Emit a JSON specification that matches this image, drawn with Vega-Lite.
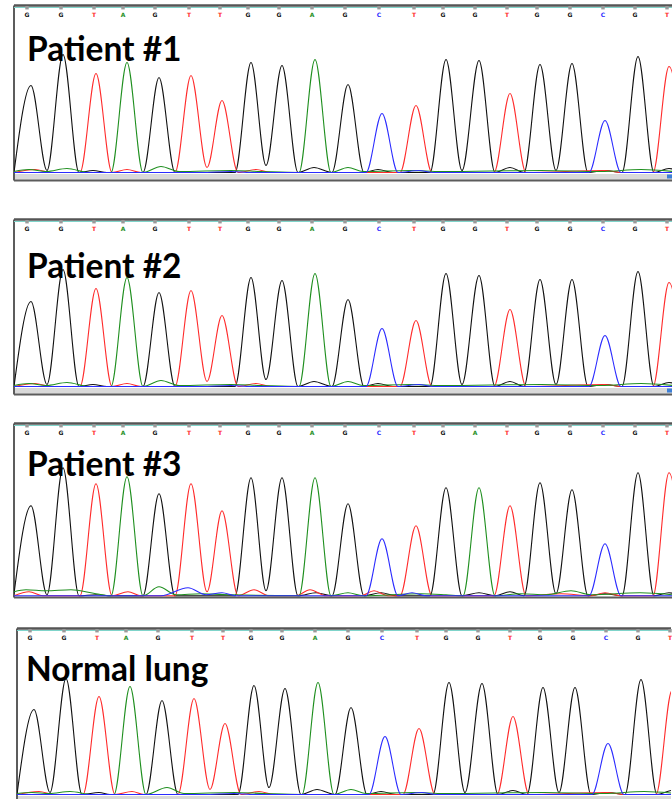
{
"$schema": "https://vega.github.io/schema/vega-lite/v6.json",
"padding": {"left": 12, "top": 3.5, "right": 0, "bottom": 0},
"background": "white",
"config": {"view": {"stroke": null}, "axis": {"disable": true}},
"datasets": {
"callsN": [
{"x":26,"b":"G"},{"x":60,"b":"G"},{"x":93,"b":"T"},{"x":122,"b":"A"},{"x":154,"b":"G"},{"x":188,"b":"T"},{"x":219,"b":"T"},{"x":247,"b":"G"},{"x":278,"b":"G"},{"x":311,"b":"A"},{"x":344,"b":"G"},{"x":378,"b":"C"},{"x":413,"b":"T"},{"x":442,"b":"G"},{"x":474,"b":"G"},{"x":506,"b":"T"},{"x":536,"b":"G"},{"x":569,"b":"G"},{"x":602,"b":"C"},{"x":634,"b":"G"},{"x":666,"b":"T"}],
"callsM": [
{"x":26,"b":"G"},{"x":60,"b":"G"},{"x":93,"b":"T"},{"x":122,"b":"A"},{"x":154,"b":"G"},{"x":188,"b":"T"},{"x":219,"b":"T"},{"x":247,"b":"G"},{"x":278,"b":"G"},{"x":311,"b":"A"},{"x":344,"b":"G"},{"x":378,"b":"C"},{"x":413,"b":"T"},{"x":442,"b":"G"},{"x":474,"b":"A"},{"x":506,"b":"T"},{"x":536,"b":"G"},{"x":569,"b":"G"},{"x":602,"b":"C"},{"x":634,"b":"G"},{"x":666,"b":"T"}],
"tr": [
{"p":1,"b":"G","x":13,"v":0},{"p":1,"b":"G","x":30,"v":87},{"p":1,"b":"G","x":46,"v":2},{"p":1,"b":"G","x":62,"v":118},{"p":1,"b":"G","x":78,"v":0},{"p":1,"b":"G","x":92,"v":2},{"p":1,"b":"G","x":106,"v":0},{"p":1,"b":"G","x":142,"v":0},{"p":1,"b":"G","x":158,"v":95},{"p":1,"b":"G","x":174,"v":0},{"p":1,"b":"G","x":234,"v":0},{"p":1,"b":"G","x":250,"v":110},{"p":1,"b":"G","x":265,"v":7},{"p":1,"b":"G","x":281,"v":107},{"p":1,"b":"G","x":297,"v":0},{"p":1,"b":"G","x":313,"v":5},{"p":1,"b":"G","x":331,"v":0},{"p":1,"b":"G","x":347,"v":88},{"p":1,"b":"G","x":363,"v":0},{"p":1,"b":"G","x":377,"v":3},{"p":1,"b":"G","x":392,"v":0},{"p":1,"b":"G","x":429,"v":0},{"p":1,"b":"G","x":445,"v":113},{"p":1,"b":"G","x":461,"v":2},{"p":1,"b":"G","x":478,"v":112},{"p":1,"b":"G","x":494,"v":0},{"p":1,"b":"G","x":509,"v":5},{"p":1,"b":"G","x":523,"v":0},{"p":1,"b":"G","x":539,"v":108},{"p":1,"b":"G","x":555,"v":2},{"p":1,"b":"G","x":571,"v":109},{"p":1,"b":"G","x":587,"v":0},{"p":1,"b":"G","x":604,"v":2},{"p":1,"b":"G","x":621,"v":0},{"p":1,"b":"G","x":637,"v":116},{"p":1,"b":"G","x":653,"v":0},{"p":1,"b":"G","x":668,"v":4},{"p":1,"b":"G","x":680,"v":0},
{"p":1,"b":"T","x":13,"v":0},{"p":1,"b":"T","x":34,"v":3},{"p":1,"b":"T","x":50,"v":0},{"p":1,"b":"T","x":79,"v":0},{"p":1,"b":"T","x":95,"v":99},{"p":1,"b":"T","x":111,"v":0},{"p":1,"b":"T","x":126,"v":3},{"p":1,"b":"T","x":140,"v":0},{"p":1,"b":"T","x":174,"v":0},{"p":1,"b":"T","x":190,"v":97},{"p":1,"b":"T","x":206,"v":5},{"p":1,"b":"T","x":221,"v":72},{"p":1,"b":"T","x":237,"v":0},{"p":1,"b":"T","x":255,"v":3},{"p":1,"b":"T","x":270,"v":0},{"p":1,"b":"T","x":399,"v":0},{"p":1,"b":"T","x":415,"v":67},{"p":1,"b":"T","x":431,"v":0},{"p":1,"b":"T","x":493,"v":0},{"p":1,"b":"T","x":509,"v":79},{"p":1,"b":"T","x":525,"v":0},{"p":1,"b":"T","x":604,"v":2},{"p":1,"b":"T","x":620,"v":0},{"p":1,"b":"T","x":652,"v":0},{"p":1,"b":"T","x":668,"v":106},{"p":1,"b":"T","x":684,"v":0},
{"p":1,"b":"A","x":13,"v":1},{"p":1,"b":"A","x":28,"v":3},{"p":1,"b":"A","x":45,"v":1},{"p":1,"b":"A","x":66,"v":4},{"p":1,"b":"A","x":88,"v":0},{"p":1,"b":"A","x":110,"v":0},{"p":1,"b":"A","x":126,"v":110},{"p":1,"b":"A","x":142,"v":0},{"p":1,"b":"A","x":160,"v":6},{"p":1,"b":"A","x":178,"v":1},{"p":1,"b":"A","x":230,"v":2},{"p":1,"b":"A","x":260,"v":1},{"p":1,"b":"A","x":298,"v":0},{"p":1,"b":"A","x":314,"v":113},{"p":1,"b":"A","x":330,"v":0},{"p":1,"b":"A","x":347,"v":5},{"p":1,"b":"A","x":362,"v":1},{"p":1,"b":"A","x":410,"v":2},{"p":1,"b":"A","x":440,"v":1},{"p":1,"b":"A","x":540,"v":2},{"p":1,"b":"A","x":600,"v":1},{"p":1,"b":"A","x":640,"v":3},{"p":1,"b":"A","x":672,"v":1},
{"p":1,"b":"C","x":13,"v":0},{"p":1,"b":"C","x":200,"v":0},{"p":1,"b":"C","x":230,"v":1},{"p":1,"b":"C","x":250,"v":0},{"p":1,"b":"C","x":365,"v":0},{"p":1,"b":"C","x":381,"v":59},{"p":1,"b":"C","x":397,"v":0},{"p":1,"b":"C","x":418,"v":2},{"p":1,"b":"C","x":432,"v":0},{"p":1,"b":"C","x":588,"v":0},{"p":1,"b":"C","x":604,"v":52},{"p":1,"b":"C","x":620,"v":0},{"p":1,"b":"C","x":672,"v":0},

{"p":2,"b":"G","x":13,"v":0},{"p":2,"b":"G","x":30,"v":85},{"p":2,"b":"G","x":46,"v":2},{"p":2,"b":"G","x":62,"v":117},{"p":2,"b":"G","x":78,"v":0},{"p":2,"b":"G","x":92,"v":2},{"p":2,"b":"G","x":106,"v":0},{"p":2,"b":"G","x":142,"v":0},{"p":2,"b":"G","x":158,"v":94},{"p":2,"b":"G","x":174,"v":0},{"p":2,"b":"G","x":234,"v":0},{"p":2,"b":"G","x":250,"v":109},{"p":2,"b":"G","x":265,"v":7},{"p":2,"b":"G","x":281,"v":106},{"p":2,"b":"G","x":297,"v":0},{"p":2,"b":"G","x":313,"v":5},{"p":2,"b":"G","x":331,"v":0},{"p":2,"b":"G","x":347,"v":87},{"p":2,"b":"G","x":363,"v":0},{"p":2,"b":"G","x":377,"v":3},{"p":2,"b":"G","x":392,"v":0},{"p":2,"b":"G","x":429,"v":0},{"p":2,"b":"G","x":445,"v":113},{"p":2,"b":"G","x":461,"v":2},{"p":2,"b":"G","x":478,"v":111},{"p":2,"b":"G","x":494,"v":0},{"p":2,"b":"G","x":509,"v":5},{"p":2,"b":"G","x":523,"v":0},{"p":2,"b":"G","x":539,"v":107},{"p":2,"b":"G","x":555,"v":2},{"p":2,"b":"G","x":571,"v":107},{"p":2,"b":"G","x":587,"v":0},{"p":2,"b":"G","x":604,"v":2},{"p":2,"b":"G","x":621,"v":0},{"p":2,"b":"G","x":637,"v":115},{"p":2,"b":"G","x":653,"v":0},{"p":2,"b":"G","x":668,"v":4},{"p":2,"b":"G","x":680,"v":0},
{"p":2,"b":"T","x":13,"v":0},{"p":2,"b":"T","x":34,"v":3},{"p":2,"b":"T","x":50,"v":0},{"p":2,"b":"T","x":79,"v":0},{"p":2,"b":"T","x":95,"v":98},{"p":2,"b":"T","x":111,"v":0},{"p":2,"b":"T","x":126,"v":3},{"p":2,"b":"T","x":140,"v":0},{"p":2,"b":"T","x":174,"v":0},{"p":2,"b":"T","x":190,"v":96},{"p":2,"b":"T","x":206,"v":5},{"p":2,"b":"T","x":221,"v":71},{"p":2,"b":"T","x":237,"v":0},{"p":2,"b":"T","x":255,"v":3},{"p":2,"b":"T","x":270,"v":0},{"p":2,"b":"T","x":399,"v":0},{"p":2,"b":"T","x":415,"v":66},{"p":2,"b":"T","x":431,"v":0},{"p":2,"b":"T","x":493,"v":0},{"p":2,"b":"T","x":509,"v":77},{"p":2,"b":"T","x":525,"v":0},{"p":2,"b":"T","x":604,"v":2},{"p":2,"b":"T","x":620,"v":0},{"p":2,"b":"T","x":652,"v":0},{"p":2,"b":"T","x":668,"v":104},{"p":2,"b":"T","x":684,"v":0},
{"p":2,"b":"A","x":13,"v":1},{"p":2,"b":"A","x":28,"v":3},{"p":2,"b":"A","x":45,"v":1},{"p":2,"b":"A","x":66,"v":4},{"p":2,"b":"A","x":88,"v":0},{"p":2,"b":"A","x":110,"v":0},{"p":2,"b":"A","x":126,"v":109},{"p":2,"b":"A","x":142,"v":0},{"p":2,"b":"A","x":160,"v":6},{"p":2,"b":"A","x":178,"v":1},{"p":2,"b":"A","x":230,"v":2},{"p":2,"b":"A","x":260,"v":1},{"p":2,"b":"A","x":298,"v":0},{"p":2,"b":"A","x":314,"v":113},{"p":2,"b":"A","x":330,"v":0},{"p":2,"b":"A","x":347,"v":5},{"p":2,"b":"A","x":362,"v":1},{"p":2,"b":"A","x":410,"v":2},{"p":2,"b":"A","x":440,"v":1},{"p":2,"b":"A","x":540,"v":2},{"p":2,"b":"A","x":600,"v":1},{"p":2,"b":"A","x":640,"v":3},{"p":2,"b":"A","x":672,"v":1},
{"p":2,"b":"C","x":13,"v":0},{"p":2,"b":"C","x":200,"v":0},{"p":2,"b":"C","x":230,"v":1},{"p":2,"b":"C","x":250,"v":0},{"p":2,"b":"C","x":365,"v":0},{"p":2,"b":"C","x":381,"v":58},{"p":2,"b":"C","x":397,"v":0},{"p":2,"b":"C","x":418,"v":2},{"p":2,"b":"C","x":432,"v":0},{"p":2,"b":"C","x":588,"v":0},{"p":2,"b":"C","x":604,"v":51},{"p":2,"b":"C","x":620,"v":0},{"p":2,"b":"C","x":672,"v":0},

{"p":3,"b":"G","x":13,"v":2},{"p":3,"b":"G","x":30,"v":90},{"p":3,"b":"G","x":46,"v":1},{"p":3,"b":"G","x":62,"v":128},{"p":3,"b":"G","x":78,"v":0},{"p":3,"b":"G","x":95,"v":1},{"p":3,"b":"G","x":110,"v":0},{"p":3,"b":"G","x":142,"v":0},{"p":3,"b":"G","x":158,"v":102},{"p":3,"b":"G","x":174,"v":0},{"p":3,"b":"G","x":234,"v":0},{"p":3,"b":"G","x":250,"v":118},{"p":3,"b":"G","x":265,"v":5},{"p":3,"b":"G","x":281,"v":118},{"p":3,"b":"G","x":297,"v":0},{"p":3,"b":"G","x":315,"v":3},{"p":3,"b":"G","x":331,"v":0},{"p":3,"b":"G","x":347,"v":92},{"p":3,"b":"G","x":363,"v":0},{"p":3,"b":"G","x":380,"v":3},{"p":3,"b":"G","x":395,"v":0},{"p":3,"b":"G","x":429,"v":0},{"p":3,"b":"G","x":445,"v":108},{"p":3,"b":"G","x":461,"v":0},{"p":3,"b":"G","x":478,"v":3},{"p":3,"b":"G","x":494,"v":0},{"p":3,"b":"G","x":509,"v":4},{"p":3,"b":"G","x":523,"v":0},{"p":3,"b":"G","x":539,"v":113},{"p":3,"b":"G","x":555,"v":2},{"p":3,"b":"G","x":571,"v":106},{"p":3,"b":"G","x":587,"v":0},{"p":3,"b":"G","x":604,"v":2},{"p":3,"b":"G","x":621,"v":0},{"p":3,"b":"G","x":637,"v":123},{"p":3,"b":"G","x":653,"v":0},{"p":3,"b":"G","x":668,"v":3},{"p":3,"b":"G","x":680,"v":0},
{"p":3,"b":"T","x":13,"v":0},{"p":3,"b":"T","x":28,"v":4},{"p":3,"b":"T","x":42,"v":0},{"p":3,"b":"T","x":79,"v":0},{"p":3,"b":"T","x":95,"v":112},{"p":3,"b":"T","x":111,"v":0},{"p":3,"b":"T","x":127,"v":4},{"p":3,"b":"T","x":140,"v":0},{"p":3,"b":"T","x":174,"v":0},{"p":3,"b":"T","x":190,"v":112},{"p":3,"b":"T","x":206,"v":4},{"p":3,"b":"T","x":221,"v":85},{"p":3,"b":"T","x":237,"v":0},{"p":3,"b":"T","x":253,"v":6},{"p":3,"b":"T","x":268,"v":0},{"p":3,"b":"T","x":295,"v":0},{"p":3,"b":"T","x":309,"v":6},{"p":3,"b":"T","x":325,"v":0},{"p":3,"b":"T","x":360,"v":0},{"p":3,"b":"T","x":373,"v":5},{"p":3,"b":"T","x":387,"v":0},{"p":3,"b":"T","x":399,"v":0},{"p":3,"b":"T","x":415,"v":70},{"p":3,"b":"T","x":431,"v":0},{"p":3,"b":"T","x":493,"v":0},{"p":3,"b":"T","x":509,"v":90},{"p":3,"b":"T","x":525,"v":0},{"p":3,"b":"T","x":560,"v":2},{"p":3,"b":"T","x":590,"v":0},{"p":3,"b":"T","x":604,"v":3},{"p":3,"b":"T","x":620,"v":0},{"p":3,"b":"T","x":652,"v":0},{"p":3,"b":"T","x":668,"v":123},{"p":3,"b":"T","x":684,"v":0},
{"p":3,"b":"A","x":13,"v":4},{"p":3,"b":"A","x":25,"v":6},{"p":3,"b":"A","x":45,"v":5},{"p":3,"b":"A","x":70,"v":6},{"p":3,"b":"A","x":95,"v":2},{"p":3,"b":"A","x":110,"v":0},{"p":3,"b":"A","x":126,"v":119},{"p":3,"b":"A","x":142,"v":0},{"p":3,"b":"A","x":158,"v":9},{"p":3,"b":"A","x":175,"v":1},{"p":3,"b":"A","x":200,"v":2},{"p":3,"b":"A","x":230,"v":1},{"p":3,"b":"A","x":298,"v":0},{"p":3,"b":"A","x":314,"v":118},{"p":3,"b":"A","x":330,"v":0},{"p":3,"b":"A","x":347,"v":3},{"p":3,"b":"A","x":362,"v":0},{"p":3,"b":"A","x":420,"v":2},{"p":3,"b":"A","x":445,"v":1},{"p":3,"b":"A","x":462,"v":0},{"p":3,"b":"A","x":478,"v":108},{"p":3,"b":"A","x":494,"v":0},{"p":3,"b":"A","x":520,"v":2},{"p":3,"b":"A","x":545,"v":1},{"p":3,"b":"A","x":570,"v":5},{"p":3,"b":"A","x":590,"v":1},{"p":3,"b":"A","x":639,"v":3},{"p":3,"b":"A","x":672,"v":1},
{"p":3,"b":"C","x":13,"v":0},{"p":3,"b":"C","x":160,"v":0},{"p":3,"b":"C","x":187,"v":8},{"p":3,"b":"C","x":205,"v":1},{"p":3,"b":"C","x":221,"v":3},{"p":3,"b":"C","x":235,"v":0},{"p":3,"b":"C","x":365,"v":0},{"p":3,"b":"C","x":381,"v":57},{"p":3,"b":"C","x":397,"v":0},{"p":3,"b":"C","x":411,"v":3},{"p":3,"b":"C","x":425,"v":0},{"p":3,"b":"C","x":588,"v":0},{"p":3,"b":"C","x":604,"v":52},{"p":3,"b":"C","x":620,"v":0},{"p":3,"b":"C","x":672,"v":0},

{"p":4,"b":"G","x":13,"v":0},{"p":4,"b":"G","x":30,"v":85},{"p":4,"b":"G","x":46,"v":2},{"p":4,"b":"G","x":62,"v":116},{"p":4,"b":"G","x":78,"v":0},{"p":4,"b":"G","x":95,"v":2},{"p":4,"b":"G","x":106,"v":0},{"p":4,"b":"G","x":142,"v":0},{"p":4,"b":"G","x":158,"v":94},{"p":4,"b":"G","x":174,"v":0},{"p":4,"b":"G","x":234,"v":0},{"p":4,"b":"G","x":250,"v":109},{"p":4,"b":"G","x":265,"v":7},{"p":4,"b":"G","x":281,"v":106},{"p":4,"b":"G","x":297,"v":0},{"p":4,"b":"G","x":313,"v":5},{"p":4,"b":"G","x":331,"v":0},{"p":4,"b":"G","x":347,"v":87},{"p":4,"b":"G","x":363,"v":0},{"p":4,"b":"G","x":377,"v":3},{"p":4,"b":"G","x":392,"v":0},{"p":4,"b":"G","x":429,"v":0},{"p":4,"b":"G","x":445,"v":112},{"p":4,"b":"G","x":461,"v":2},{"p":4,"b":"G","x":478,"v":111},{"p":4,"b":"G","x":494,"v":0},{"p":4,"b":"G","x":509,"v":4},{"p":4,"b":"G","x":523,"v":0},{"p":4,"b":"G","x":539,"v":107},{"p":4,"b":"G","x":555,"v":2},{"p":4,"b":"G","x":571,"v":107},{"p":4,"b":"G","x":587,"v":0},{"p":4,"b":"G","x":604,"v":2},{"p":4,"b":"G","x":621,"v":0},{"p":4,"b":"G","x":637,"v":115},{"p":4,"b":"G","x":653,"v":0},{"p":4,"b":"G","x":668,"v":4},{"p":4,"b":"G","x":680,"v":0},
{"p":4,"b":"T","x":13,"v":0},{"p":4,"b":"T","x":35,"v":3},{"p":4,"b":"T","x":50,"v":0},{"p":4,"b":"T","x":79,"v":0},{"p":4,"b":"T","x":95,"v":98},{"p":4,"b":"T","x":111,"v":0},{"p":4,"b":"T","x":128,"v":3},{"p":4,"b":"T","x":140,"v":0},{"p":4,"b":"T","x":174,"v":0},{"p":4,"b":"T","x":190,"v":96},{"p":4,"b":"T","x":206,"v":5},{"p":4,"b":"T","x":221,"v":71},{"p":4,"b":"T","x":237,"v":0},{"p":4,"b":"T","x":255,"v":3},{"p":4,"b":"T","x":270,"v":0},{"p":4,"b":"T","x":399,"v":0},{"p":4,"b":"T","x":415,"v":66},{"p":4,"b":"T","x":431,"v":0},{"p":4,"b":"T","x":493,"v":0},{"p":4,"b":"T","x":509,"v":78},{"p":4,"b":"T","x":525,"v":0},{"p":4,"b":"T","x":604,"v":2},{"p":4,"b":"T","x":620,"v":0},{"p":4,"b":"T","x":652,"v":0},{"p":4,"b":"T","x":668,"v":104},{"p":4,"b":"T","x":684,"v":0},
{"p":4,"b":"A","x":13,"v":1},{"p":4,"b":"A","x":28,"v":2},{"p":4,"b":"A","x":45,"v":1},{"p":4,"b":"A","x":66,"v":3},{"p":4,"b":"A","x":88,"v":0},{"p":4,"b":"A","x":110,"v":0},{"p":4,"b":"A","x":126,"v":108},{"p":4,"b":"A","x":142,"v":0},{"p":4,"b":"A","x":163,"v":7},{"p":4,"b":"A","x":180,"v":1},{"p":4,"b":"A","x":230,"v":2},{"p":4,"b":"A","x":260,"v":1},{"p":4,"b":"A","x":298,"v":0},{"p":4,"b":"A","x":314,"v":112},{"p":4,"b":"A","x":330,"v":0},{"p":4,"b":"A","x":347,"v":5},{"p":4,"b":"A","x":362,"v":1},{"p":4,"b":"A","x":410,"v":2},{"p":4,"b":"A","x":440,"v":1},{"p":4,"b":"A","x":540,"v":2},{"p":4,"b":"A","x":600,"v":1},{"p":4,"b":"A","x":640,"v":3},{"p":4,"b":"A","x":672,"v":1},
{"p":4,"b":"C","x":13,"v":0},{"p":4,"b":"C","x":200,"v":0},{"p":4,"b":"C","x":230,"v":1},{"p":4,"b":"C","x":250,"v":0},{"p":4,"b":"C","x":365,"v":0},{"p":4,"b":"C","x":381,"v":58},{"p":4,"b":"C","x":397,"v":0},{"p":4,"b":"C","x":418,"v":2},{"p":4,"b":"C","x":432,"v":0},{"p":4,"b":"C","x":588,"v":0},{"p":4,"b":"C","x":604,"v":51},{"p":4,"b":"C","x":620,"v":0},{"p":4,"b":"C","x":672,"v":0}
]
},
"spacing": 36,
"vconcat": [
{
"width": 658, "height": 175,
"layer": [
{"data": {"values": [{}]}, "mark": {"type": "rect", "color": "#d9d9d9"}, "encoding": {"y": {"datum": -1.5}, "y2": {"datum": -7.2}}},
{"data": {"values": [{}]}, "mark": {"type": "rect", "color": "#3d7fd6"}, "encoding": {"x": {"datum": 666}, "x2": {"datum": 671}, "y": {"datum": -2}, "y2": {"datum": -6}}},
{"data": {"values": [{}]}, "mark": {"type": "rule", "color": "#5c5c5c", "strokeWidth": 2}, "encoding": {"y": {"datum": -8}}},
{"data": {"values": [{}]}, "mark": {"type": "rule", "color": "#5c5c5c", "strokeWidth": 2}, "encoding": {"x": {"datum": 13}}},
{"data": {"values": [{}]}, "mark": {"type": "rule", "color": "#555555", "strokeWidth": 2.5}, "encoding": {"y": {"datum": 167}}},
{"data": {"values": [{}]}, "mark": {"type": "rule", "color": "#7fd4ca", "strokeWidth": 1.2}, "encoding": {"y": {"datum": 165}}},
{"data": {"name": "callsN"}, "mark": {"type": "point", "shape": "square", "filled": true, "size": 12, "color": "#9a9a9a", "opacity": 1}, "encoding": {"x": {"field": "x", "type": "quantitative"}, "y": {"datum": 164.8}}},
{"data": {"name": "callsN"}, "mark": {"type": "text", "fontSize": 6, "fontWeight": "bold", "font": "DejaVu Sans", "baseline": "middle"}, "encoding": {"x": {"field": "x", "type": "quantitative"}, "y": {"datum": 157.4}, "text": {"field": "b"}, "color": {"field": "b", "type": "nominal", "legend": null}}},
{"data": {"name": "tr"}, "transform": [{"filter": "datum.p == 1"}], "mark": {"type": "line", "interpolate": "monotone", "strokeWidth": 1.1, "clip": true}, "encoding": {"x": {"field": "x", "type": "quantitative", "scale": {"domain": [13, 671], "nice": false, "zero": false}, "axis": null}, "y": {"field": "v", "type": "quantitative", "scale": {"domain": [-8, 167], "nice": false, "zero": false}, "axis": null}, "color": {"field": "b", "type": "nominal", "scale": {"domain": ["G", "A", "T", "C"], "range": ["#111111", "#1f8f1f", "#ff2b2b", "#2b2bff"]}, "legend": null}}},
{"data": {"values": [{"t": "Patient #1"}]}, "mark": {"type": "text", "align": "left", "baseline": "alphabetic", "font": "Lato", "fontSize": 33.5, "fontWeight": "bold", "color": "#000000"}, "encoding": {"x": {"datum": 26}, "y": {"datum": 111.7}, "text": {"field": "t"}}}
]
},
{
"spacing": 26,
"vconcat": [
{
"width": 658, "height": 175,
"layer": [
{"data": {"values": [{}]}, "mark": {"type": "rect", "color": "#d9d9d9"}, "encoding": {"y": {"datum": -1.5}, "y2": {"datum": -7.2}}},
{"data": {"values": [{}]}, "mark": {"type": "rect", "color": "#3d7fd6"}, "encoding": {"x": {"datum": 666}, "x2": {"datum": 671}, "y": {"datum": -2}, "y2": {"datum": -6}}},
{"data": {"values": [{}]}, "mark": {"type": "rule", "color": "#5c5c5c", "strokeWidth": 2}, "encoding": {"y": {"datum": -8}}},
{"data": {"values": [{}]}, "mark": {"type": "rule", "color": "#5c5c5c", "strokeWidth": 2}, "encoding": {"x": {"datum": 13}}},
{"data": {"values": [{}]}, "mark": {"type": "rule", "color": "#555555", "strokeWidth": 2.5}, "encoding": {"y": {"datum": 167}}},
{"data": {"values": [{}]}, "mark": {"type": "rule", "color": "#7fd4ca", "strokeWidth": 1.2}, "encoding": {"y": {"datum": 165}}},
{"data": {"name": "callsN"}, "mark": {"type": "point", "shape": "square", "filled": true, "size": 12, "color": "#9a9a9a", "opacity": 1}, "encoding": {"x": {"field": "x", "type": "quantitative"}, "y": {"datum": 164.8}}},
{"data": {"name": "callsN"}, "mark": {"type": "text", "fontSize": 6, "fontWeight": "bold", "font": "DejaVu Sans", "baseline": "middle"}, "encoding": {"x": {"field": "x", "type": "quantitative"}, "y": {"datum": 157.4}, "text": {"field": "b"}, "color": {"field": "b", "type": "nominal", "legend": null}}},
{"data": {"name": "tr"}, "transform": [{"filter": "datum.p == 2"}], "mark": {"type": "line", "interpolate": "monotone", "strokeWidth": 1.1, "clip": true}, "encoding": {"x": {"field": "x", "type": "quantitative", "scale": {"domain": [13, 671], "nice": false, "zero": false}, "axis": null}, "y": {"field": "v", "type": "quantitative", "scale": {"domain": [-8, 167], "nice": false, "zero": false}, "axis": null}, "color": {"field": "b", "type": "nominal", "scale": {"domain": ["G", "A", "T", "C"], "range": ["#111111", "#1f8f1f", "#ff2b2b", "#2b2bff"]}, "legend": null}}},
{"data": {"values": [{"t": "Patient #2"}]}, "mark": {"type": "text", "align": "left", "baseline": "alphabetic", "font": "Lato", "fontSize": 33.5, "fontWeight": "bold", "color": "#000000"}, "encoding": {"x": {"datum": 26}, "y": {"datum": 108.6}, "text": {"field": "t"}}}
]
},
{
"spacing": 28,
"vconcat": [
{
"width": 658, "height": 174,
"layer": [
{"data": {"values": [{}]}, "mark": {"type": "rule", "color": "#5c5c5c", "strokeWidth": 2}, "encoding": {"y": {"datum": -1.7}}},
{"data": {"values": [{}]}, "mark": {"type": "rule", "color": "#5c5c5c", "strokeWidth": 2}, "encoding": {"x": {"datum": 13}}},
{"data": {"values": [{}]}, "mark": {"type": "rule", "color": "#555555", "strokeWidth": 2.5}, "encoding": {"y": {"datum": 172.3}}},
{"data": {"values": [{}]}, "mark": {"type": "rule", "color": "#7fd4ca", "strokeWidth": 1.2}, "encoding": {"y": {"datum": 170.3}}},
{"data": {"name": "callsM"}, "mark": {"type": "point", "shape": "square", "filled": true, "size": 12, "color": "#9a9a9a", "opacity": 1}, "encoding": {"x": {"field": "x", "type": "quantitative"}, "y": {"datum": 170.1}}},
{"data": {"name": "callsM"}, "mark": {"type": "text", "fontSize": 6, "fontWeight": "bold", "font": "DejaVu Sans", "baseline": "middle"}, "encoding": {"x": {"field": "x", "type": "quantitative"}, "y": {"datum": 162.7}, "text": {"field": "b"}, "color": {"field": "b", "type": "nominal", "legend": null}}},
{"data": {"name": "tr"}, "transform": [{"filter": "datum.p == 3"}], "mark": {"type": "line", "interpolate": "monotone", "strokeWidth": 1.1, "clip": true}, "encoding": {"x": {"field": "x", "type": "quantitative", "scale": {"domain": [13, 671], "nice": false, "zero": false}, "axis": null}, "y": {"field": "v", "type": "quantitative", "scale": {"domain": [-1.7, 172.3], "nice": false, "zero": false}, "axis": null}, "color": {"field": "b", "type": "nominal", "scale": {"domain": ["G", "A", "T", "C"], "range": ["#111111", "#1f8f1f", "#ff2b2b", "#2b2bff"]}, "legend": null}}},
{"data": {"values": [{"t": "Patient #3"}]}, "mark": {"type": "text", "align": "left", "baseline": "alphabetic", "font": "Lato", "fontSize": 33.5, "fontWeight": "bold", "color": "#000000"}, "encoding": {"x": {"datum": 26}, "y": {"datum": 119.7}, "text": {"field": "t"}}}
]
},
{
"spacing": 0,
"hconcat": [
{"data": {"values": []}, "width": 1, "height": 1, "mark": "point"},
{
"width": 654, "height": 173,
"layer": [
{"data": {"values": [{}]}, "mark": {"type": "rect", "color": "#d9d9d9"}, "encoding": {"y": {"datum": -1.5}, "y2": {"datum": -7}}},
{"data": {"values": [{}]}, "mark": {"type": "rule", "color": "#5c5c5c", "strokeWidth": 2}, "encoding": {"x": {"datum": 13}}},
{"data": {"values": [{}]}, "mark": {"type": "rule", "color": "#555555", "strokeWidth": 2.5}, "encoding": {"y": {"datum": 166}}},
{"data": {"values": [{}]}, "mark": {"type": "rule", "color": "#7fd4ca", "strokeWidth": 1.2}, "encoding": {"y": {"datum": 164}}},
{"data": {"name": "callsN"}, "mark": {"type": "point", "shape": "square", "filled": true, "size": 12, "color": "#9a9a9a", "opacity": 1}, "encoding": {"x": {"field": "x", "type": "quantitative"}, "y": {"datum": 163.8}}},
{"data": {"name": "callsN"}, "mark": {"type": "text", "fontSize": 6, "fontWeight": "bold", "font": "DejaVu Sans", "baseline": "middle"}, "encoding": {"x": {"field": "x", "type": "quantitative"}, "y": {"datum": 156.4}, "text": {"field": "b"}, "color": {"field": "b", "type": "nominal", "legend": null}}},
{"data": {"name": "tr"}, "transform": [{"filter": "datum.p == 4"}], "mark": {"type": "line", "interpolate": "monotone", "strokeWidth": 1.1, "clip": true}, "encoding": {"x": {"field": "x", "type": "quantitative", "scale": {"domain": [13, 667], "nice": false, "zero": false}, "axis": null}, "y": {"field": "v", "type": "quantitative", "scale": {"domain": [-7, 166], "nice": false, "zero": false}, "axis": null}, "color": {"field": "b", "type": "nominal", "scale": {"domain": ["G", "A", "T", "C"], "range": ["#111111", "#1f8f1f", "#ff2b2b", "#2b2bff"]}, "legend": null}}},
{"data": {"values": [{"t": "Normal lung"}]}, "mark": {"type": "text", "align": "left", "baseline": "alphabetic", "font": "Lato", "fontSize": 33.5, "fontWeight": "bold", "color": "#000000"}, "encoding": {"x": {"datum": 22}, "y": {"datum": 113.4}, "text": {"field": "t"}}}
]
}
]
}
]
}
]
}
]
}
